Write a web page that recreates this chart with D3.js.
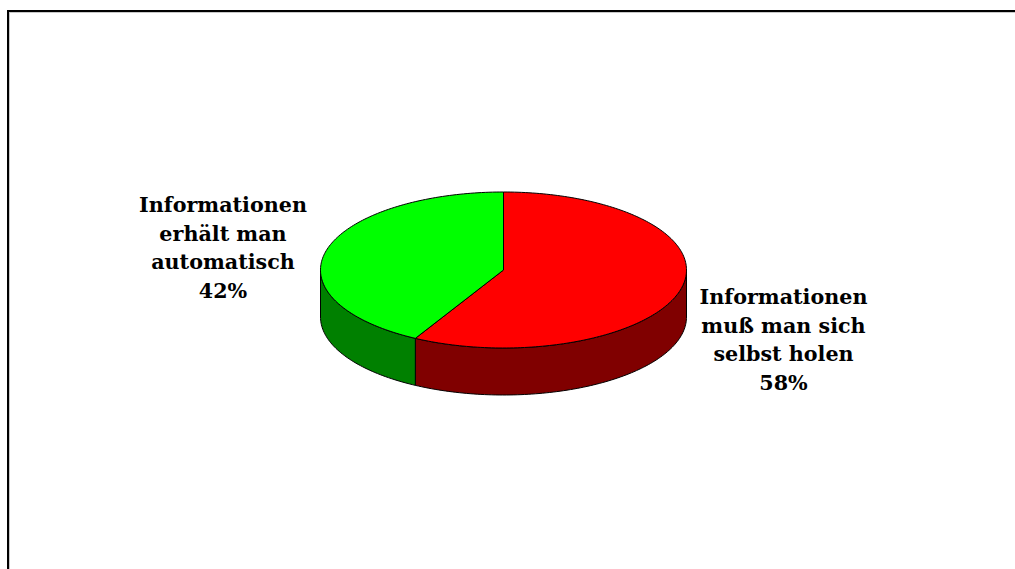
<!DOCTYPE html>
<html>
<head>
<meta charset="utf-8">
<script src="https://cdn.jsdelivr.net/npm/d3@7"></script>
<style>
  html, body { margin: 0; padding: 0; background: #fff; overflow: hidden; }
  svg { display: block; }
</style>
</head>
<body>
<script>
// ---- data ----
const categories = [
  ["Informationen", "muß man sich", "selbst holen"],
  ["Informationen", "erhält man", "automatisch"]
];
const values = [58, 42];
const percentLabels = ["58%", "42%"];
const topColors = ["#ff0000", "#00ff00"];
const sideColors = ["#800000", "#008000"];

const W = 1015, H = 569;
const svg = d3.select("body").append("svg").attr("width", W).attr("height", H);

// frame
svg.append("rect").attr("x", 9.5).attr("y", 12.5).attr("width", 1100).attr("height", 700)
  .attr("fill", "none").attr("stroke", "#c8c8c8").attr("stroke-width", 1);
svg.append("rect").attr("x", 8).attr("y", 11).attr("width", 1100).attr("height", 700)
  .attr("fill", "none").attr("stroke", "#000").attr("stroke-width", 2);

// 3D pie geometry
const cx = 503.5, cy = 270, rx = 183, ry = 78, depth = 47;
const pie = d3.pie().sort(null).value(d => d)(values);

const px = t => cx + rx * Math.sin(t);
const py = t => cy - ry * Math.cos(t);

function arcPts(a0, a1, dy) {
  const n = Math.max(2, Math.ceil(Math.abs(a1 - a0) / 0.02));
  const pts = [];
  for (let i = 0; i <= n; i++) {
    const t = a0 + (a1 - a0) * i / n;
    pts.push([px(t), py(t) + dy]);
  }
  return pts;
}

const g = svg.append("g");
const line = d3.line();

// side walls (front half: t in [PI/2, 3PI/2])
pie.forEach((d, i) => {
  const s = Math.max(d.startAngle, Math.PI / 2);
  const e = Math.min(d.endAngle, 3 * Math.PI / 2);
  if (e <= s) return;
  const top = arcPts(s, e, 0);
  const bot = arcPts(e, s, depth);
  g.append("path").attr("d", line(top.concat(bot)) + "Z")
    .attr("fill", sideColors[i]).attr("stroke", "#000").attr("stroke-width", 1)
    .attr("stroke-linejoin", "round");
});

// top faces
pie.forEach((d, i) => {
  const pts = [[cx, cy]].concat(arcPts(d.startAngle, d.endAngle, 0));
  g.append("path").attr("d", line(pts) + "Z")
    .attr("fill", topColors[i]).attr("stroke", "#000").attr("stroke-width", 1)
    .attr("stroke-linejoin", "round");
});

// labels
const labelPos = [[783.5, 297], [223, 205]];
const lineH = 28.5;
const fontFamily = "'DejaVu Serif', serif";

// fit font size so "Informationen" is ~168px wide
const probe = svg.append("text").attr("font-family", fontFamily).attr("font-weight", "bold")
  .attr("font-size", 20).text("Informationen");
const w20 = probe.node().getComputedTextLength();
probe.remove();
const fs = 20 * 168 / w20;

pie.forEach((d, i) => {
  const lines = categories[i].concat([percentLabels[i]]);
  const t = svg.append("text")
    .attr("font-family", fontFamily).attr("font-weight", "bold")
    .attr("font-size", fs).attr("text-anchor", "middle").attr("fill", "#000");
  lines.forEach((s, k) => {
    t.append("tspan").attr("x", labelPos[i][0]).attr("y", labelPos[i][1] + k * lineH)
      .attr("dominant-baseline", "central").text(s);
  });
});
</script>
</body>
</html>
